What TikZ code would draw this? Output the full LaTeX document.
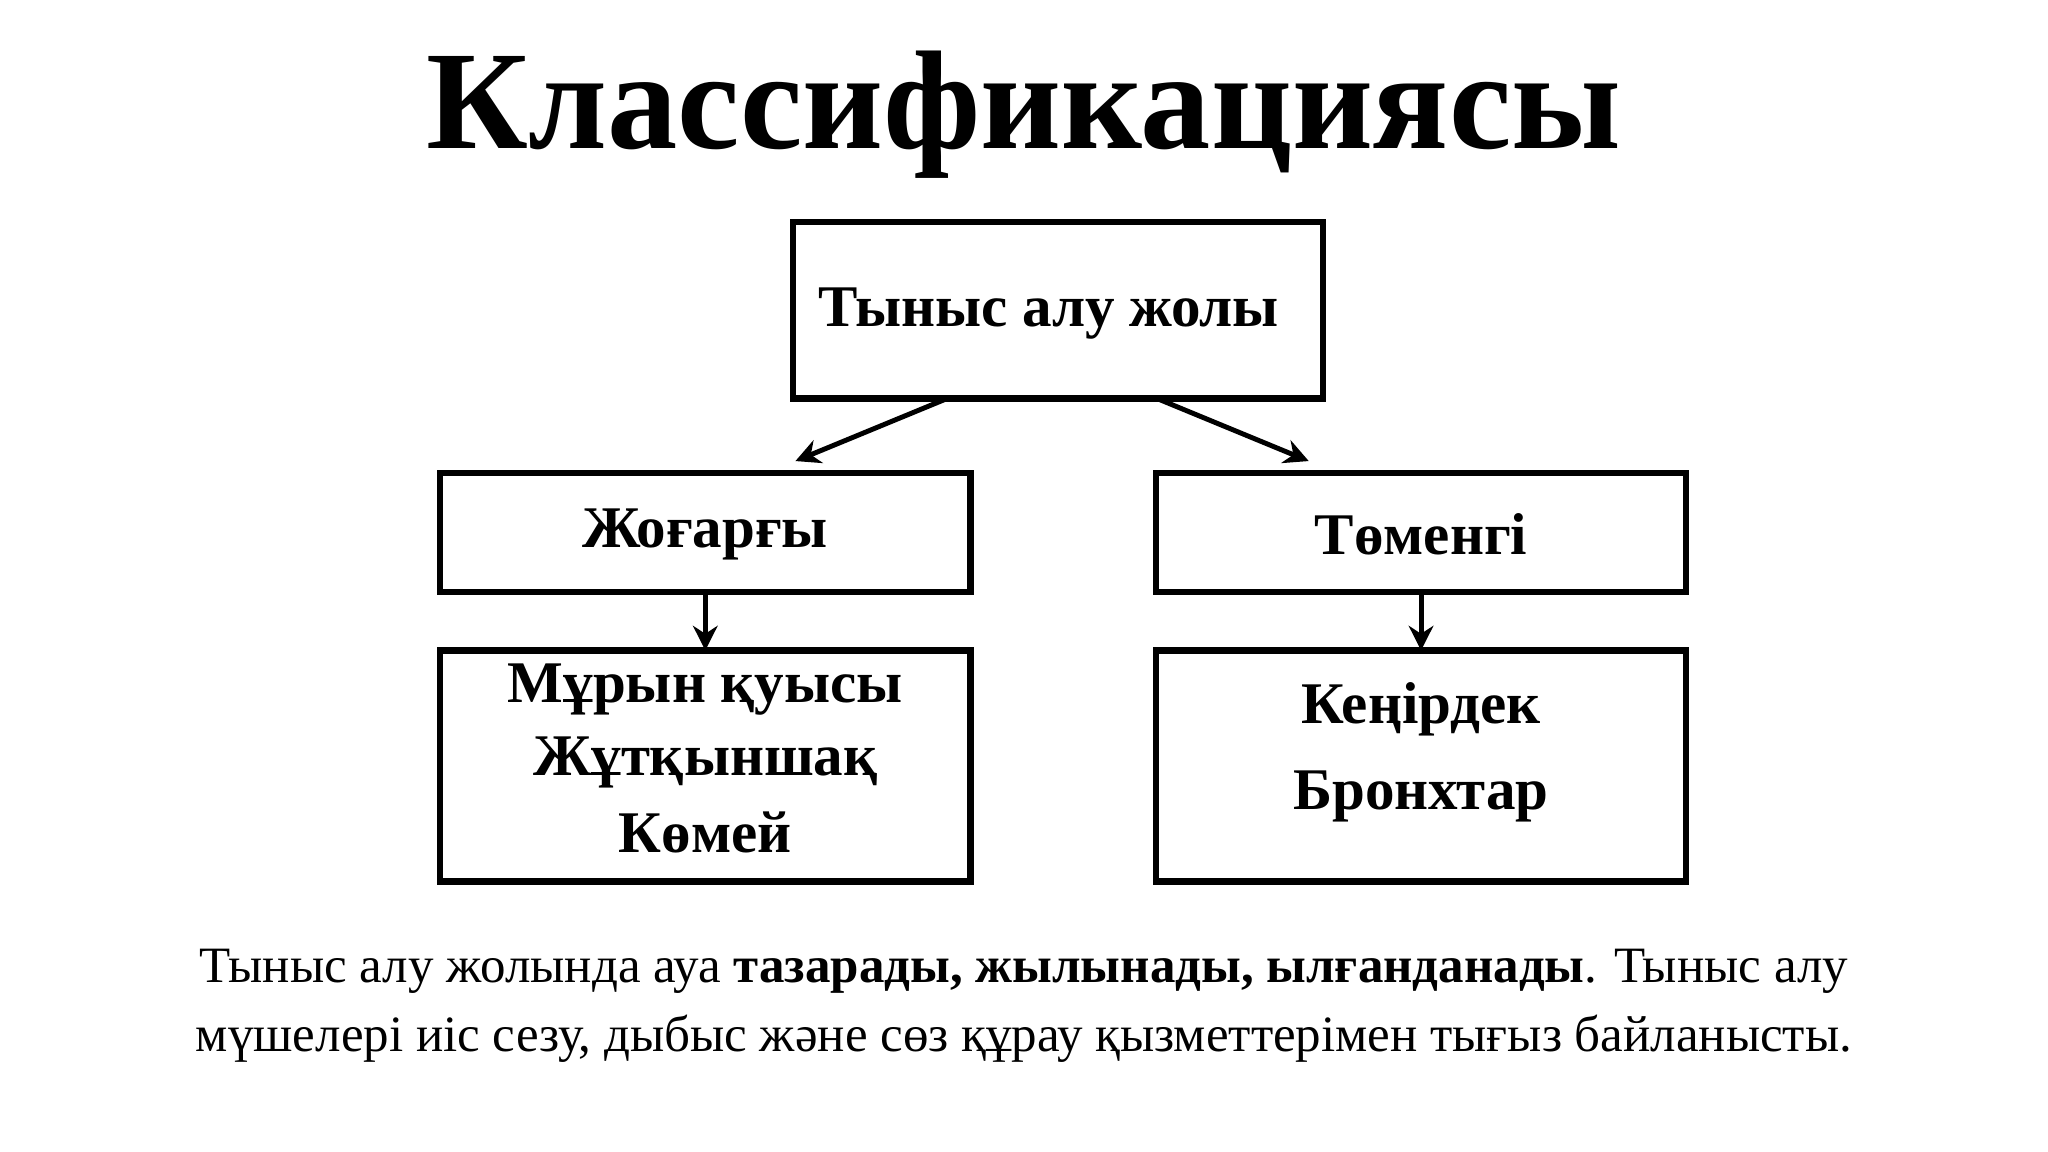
\documentclass[tikz,border=0pt]{standalone}
\usepackage{fontspec}
\setmainfont{Liberation Serif}
\usetikzlibrary{arrows.meta}
\begin{document}
\begin{tikzpicture}[x=0.013061cm,y=-0.013061cm,
  box/.style={draw,line width=1.8pt,inner sep=0pt},
  lbl/.style={font=\fontsize{16.8}{20}\selectfont\bfseries,align=center},
  arr/.style={line width=1.4pt,-{Stealth[length=7pt,width=7pt]}}]
\useasboundingbox (0,0) rectangle (1568,882);
\node[font=\fontsize{40}{46}\selectfont\bfseries] (title) at (784,88) {Классификациясы};
\draw[box] (607,170) rectangle (1013,305);
\node[lbl] (top) at (803,240) {Тыныс алу жолы};
\draw[box] (337,362) rectangle (743,453);
\node[lbl] (l) at (540,409) {Жоғарғы};
\draw[box] (885,362) rectangle (1291,453);
\node[lbl] (r) at (1088,409) {Төменгі};
\draw[box] (337,498) rectangle (743,675);
\node[lbl] at (540,528) {Мұрын қуысы};
\node[lbl] at (540,584) {Жұтқыншақ};
\node[lbl] at (540,637) {Көмей};
\draw[box] (885,498) rectangle (1291,675);
\node[lbl] at (1088,543) {Кеңірдек};
\node[lbl] at (1088,610) {Бронхтар};
\coordinate (a1) at (723,306); \coordinate (a2) at (609,353);
\coordinate (b1) at (888,306); \coordinate (b2) at (1002,353);
\coordinate (c1) at (540,454); \coordinate (c2) at (540,498);
\coordinate (d1) at (1088,454); \coordinate (d2) at (1088,498);
\draw[arr] (a1) -- (a2);
\draw[arr] (b1) -- (b2);
\draw[arr] (c1) -- (c2);
\draw[arr] (d1) -- (d2);
\node[font=\fontsize{14.5}{19.5}\selectfont,align=center] (p) at (784,770)
 {Тыныс алу жолында ауа \textbf{тазарады, жылынады, ылғанданады}. Тыныс алу\\мүшелері иіс сезу, дыбыс және сөз құрау қызметтерімен тығыз байланысты.};
\end{tikzpicture}
\end{document}
